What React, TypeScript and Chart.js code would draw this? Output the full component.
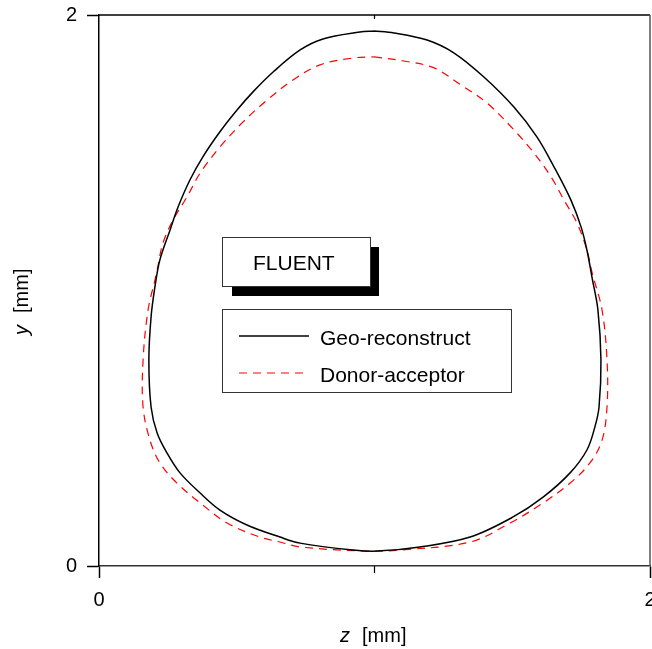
import React, { useEffect, useRef } from 'react';
import { Chart, registerables } from 'chart.js';

Chart.register(...registerables);

// Geo-reconstruct interface (z, y in mm), clockwise from top
const geoZ = [0.998, 1.071, 1.191, 1.289, 1.397, 1.506, 1.590, 1.652, 1.713, 1.750, 1.771, 1.790, 1.811, 1.822, 1.815, 1.800, 1.771, 1.710, 1.612, 1.503, 1.347, 1.165, 1.009, 0.922, 0.730, 0.657, 0.537, 0.439, 0.367, 0.294, 0.247, 0.211, 0.189, 0.181, 0.189, 0.203, 0.221, 0.258, 0.287, 0.330, 0.377, 0.439, 0.501, 0.559, 0.632, 0.730, 0.813, 0.947, 0.998];
const geoY = [1.942, 1.935, 1.909, 1.862, 1.775, 1.666, 1.557, 1.448, 1.328, 1.230, 1.147, 1.045, 0.929, 0.748, 0.577, 0.505, 0.421, 0.338, 0.250, 0.178, 0.105, 0.069, 0.054, 0.058, 0.083, 0.105, 0.149, 0.203, 0.265, 0.338, 0.410, 0.483, 0.577, 0.748, 0.904, 1.013, 1.111, 1.220, 1.303, 1.401, 1.485, 1.576, 1.655, 1.721, 1.793, 1.873, 1.913, 1.938, 1.942];

// Donor-acceptor interface
const donorZ = [0.998, 1.107, 1.216, 1.314, 1.408, 1.506, 1.579, 1.641, 1.688, 1.735, 1.771, 1.790, 1.826, 1.844, 1.844, 1.826, 1.782, 1.710, 1.612, 1.492, 1.347, 1.093, 0.973, 0.730, 0.657, 0.584, 0.465, 0.367, 0.283, 0.221, 0.185, 0.160, 0.160, 0.178, 0.203, 0.211, 0.232, 0.269, 0.319, 0.367, 0.439, 0.523, 0.610, 0.704, 0.802, 0.922, 0.998];
const donorY = [1.848, 1.833, 1.808, 1.746, 1.681, 1.583, 1.499, 1.412, 1.328, 1.245, 1.147, 1.064, 0.929, 0.748, 0.577, 0.457, 0.374, 0.301, 0.229, 0.156, 0.087, 0.058, 0.054, 0.069, 0.087, 0.105, 0.156, 0.229, 0.301, 0.374, 0.457, 0.577, 0.748, 0.929, 1.038, 1.074, 1.172, 1.256, 1.339, 1.426, 1.521, 1.612, 1.691, 1.764, 1.819, 1.844, 1.848];

const xTickValues = [0, 1, 2];
const xTickLabels = ['0', '', '2'];
const yTickValues = [0, 2];
const yTickLabels = ['0', '2'];
const seriesLabels = ['Geo-reconstruct', 'Donor-acceptor'];
const annotationText = 'FLUENT';
const xTitleVar = 'z';
const yTitleVar = 'y';
const unitText = '[mm]';

const FONT = '"Liberation Sans", Arial, Helvetica, sans-serif';

const zip = (xs: number[], ys: number[]) => xs.map((v, i) => ({ x: v, y: ys[i] }));

const overlayPlugin = {
  id: 'overlay',
  afterDraw(chart: any) {
    const { ctx, chartArea: a, scales } = chart;
    const xs = scales.x;
    ctx.save();
    // top and right frame
    ctx.lineWidth = 1.5;
    ctx.strokeStyle = '#000';
    ctx.beginPath();
    ctx.moveTo(a.left, a.top);
    ctx.lineTo(a.right, a.top);
    ctx.stroke();
    ctx.strokeStyle = '#555';
    ctx.beginPath();
    ctx.moveTo(a.right, a.top);
    ctx.lineTo(a.right, a.bottom);
    ctx.stroke();
    // minor tick at z = 1
    const xm = xs.getPixelForValue(1);
    ctx.strokeStyle = '#000';
    ctx.lineWidth = 1.2;
    ctx.beginPath();
    ctx.moveTo(xm, a.bottom);
    ctx.lineTo(xm, a.bottom + 7);
    ctx.moveTo(xm, a.top);
    ctx.lineTo(xm, a.top + 4);
    ctx.stroke();

    // axis titles
    ctx.fillStyle = '#000';
    ctx.textBaseline = 'middle';
    ctx.textAlign = 'left';
    ctx.font = `italic 20px ${FONT}`;
    ctx.fillText(xTitleVar, 340, 636);
    ctx.font = `20px ${FONT}`;
    ctx.fillText(unitText, 362, 636);

    ctx.save();
    ctx.translate(22, 335);
    ctx.rotate(-Math.PI / 2);
    ctx.font = `italic 20px ${FONT}`;
    ctx.fillText(yTitleVar, 0, 0);
    ctx.font = `20px ${FONT}`;
    ctx.fillText(unitText, 22, 0);
    ctx.restore();

    // FLUENT box with shadow
    ctx.fillStyle = '#000';
    ctx.fillRect(232, 247, 147, 49);
    ctx.fillStyle = '#fff';
    ctx.fillRect(222, 237, 148, 49);
    ctx.strokeStyle = '#333';
    ctx.lineWidth = 1;
    ctx.strokeRect(222.5, 237.5, 148, 49);
    ctx.fillStyle = '#000';
    ctx.textBaseline = 'alphabetic';
    ctx.font = `21px ${FONT}`;
    ctx.fillText(annotationText, 253, 270);

    // legend box
    ctx.fillStyle = '#fff';
    ctx.fillRect(222, 309, 289, 83);
    ctx.strokeRect(222.5, 309.5, 289, 83);
    chart.data.datasets.forEach((ds: any, i: number) => {
      const yy = 336 + i * 37;
      ctx.strokeStyle = ds.borderColor;
      ctx.lineWidth = ds.borderWidth;
      ctx.setLineDash(ds.borderDash || []);
      ctx.beginPath();
      ctx.moveTo(239, yy);
      ctx.lineTo(309, yy);
      ctx.stroke();
      ctx.setLineDash([]);
      ctx.fillStyle = '#000';
      ctx.font = `21px ${FONT}`;
      ctx.fillText(ds.label, 320, yy + 9);
    });
    ctx.restore();
  },
};

export default function App() {
  const ref = useRef<HTMLCanvasElement | null>(null);
  useEffect(() => {
    if (!ref.current) return;
    const chart = new Chart(ref.current, {
      type: 'scatter',
      data: {
        datasets: [
          {
            label: seriesLabels[0],
            data: zip(geoZ, geoY),
            showLine: true,
            borderColor: '#000',
            borderWidth: 1.5,
            pointRadius: 0,
            tension: 0.35,
            fill: false,
          },
          {
            label: seriesLabels[1],
            data: zip(donorZ, donorY),
            showLine: true,
            borderColor: '#ff0000',
            borderWidth: 1.2,
            borderDash: [8, 6],
            pointRadius: 0,
            tension: 0.35,
            fill: false,
          },
        ],
      },
      options: {
        animation: false,
        responsive: false,
        devicePixelRatio: 1,
        layout: { padding: { top: 15, right: 2, left: 0, bottom: 0 } },
        plugins: { legend: { display: false }, tooltip: { enabled: false } },
        scales: {
          x: {
            type: 'linear',
            position: 'bottom',
            min: 0,
            max: 2,
            afterBuildTicks: (s: any) => {
              s.ticks = xTickValues.map((v) => ({ value: v }));
            },
            afterFit: (s: any) => {
              s.height = 83;
              s.paddingLeft = 0;
              s.paddingRight = 0;
            },
            grid: {
              drawOnChartArea: false,
              drawTicks: true,
              tickLength: 12,
              tickWidth: 1.5,
              tickColor: (c: any) => (c.tick && c.tick.value === 1 ? 'rgba(0,0,0,0)' : '#000'),
            },
            border: { display: true, color: '#333', width: 1.5 },
            ticks: {
              autoSkip: false,
              maxRotation: 0,
              padding: 10,
              color: '#000',
              font: { family: FONT, size: 20 },
              callback: (v: any) => {
                const i = xTickValues.indexOf(Number(v));
                return i >= 0 ? xTickLabels[i] : '';
              },
            },
          },
          y: {
            type: 'linear',
            position: 'left',
            min: 0,
            max: 2,
            afterBuildTicks: (s: any) => {
              s.ticks = yTickValues.map((v) => ({ value: v }));
            },
            afterFit: (s: any) => {
              s.width = 99;
              s.paddingTop = 0;
              s.paddingBottom = 0;
            },
            grid: {
              drawOnChartArea: false,
              drawTicks: true,
              tickLength: 12,
              tickWidth: 1.5,
              tickColor: '#000',
            },
            border: { display: true, color: '#000', width: 1.5 },
            ticks: {
              autoSkip: false,
              padding: 10,
              color: '#000',
              font: { family: FONT, size: 20 },
              callback: (v: any) => {
                const i = yTickValues.indexOf(Number(v));
                return i >= 0 ? yTickLabels[i] : '';
              },
            },
          },
        },
      },
      plugins: [overlayPlugin],
    } as any);
    return () => chart.destroy();
  }, []);

  return (
    <div
      style={{
        position: 'fixed',
        left: 0,
        top: 0,
        width: 652,
        height: 649,
        overflow: 'hidden',
        background: '#fff',
      }}
    >
      <canvas ref={ref} width={652} height={649} style={{ width: 652, height: 649, display: 'block' }} />
    </div>
  );
}
